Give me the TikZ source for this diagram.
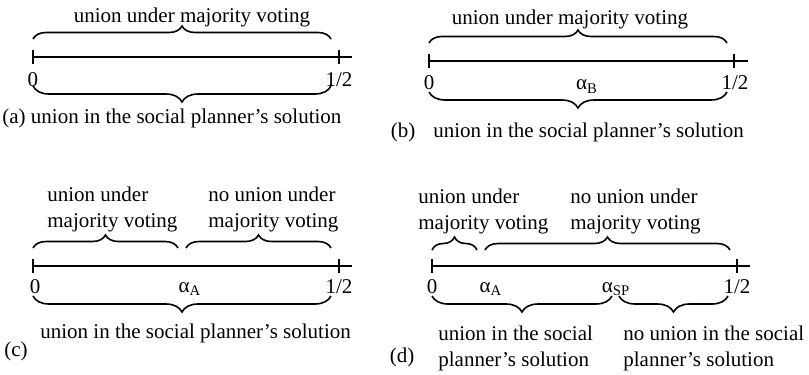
\documentclass[tikz,border=0pt]{standalone}
\usepackage{fontspec}
\setmainfont{Liberation Serif}
\usetikzlibrary{decorations.pathreplacing, positioning}
\tikzset{
    axisline/.style={line width=1pt},
    tickmark/.style={line width=1pt},
    ticklabel/.style={anchor=base, inner sep=0pt},
    upbrace/.style={line width=0.8pt, decorate, decoration={brace, amplitude=6.5pt}},
    downbrace/.style={line width=0.8pt, decorate, decoration={brace, amplitude=8pt, mirror}},
    textblock/.style={anchor=base west, inner sep=0pt, align=left},
    panellabel/.style={anchor=base, inner sep=0pt}
}

\begin{document}
\begin{tikzpicture}[x=0.5pt, y=-0.5pt, font=\fontsize{10.5}{13}\selectfont]
    \useasboundingbox (0,0) rectangle (809,375);

    % Panel (a)
    \coordinate (a0) at (33,57);
    \coordinate (a1) at (339,57);
    \coordinate (aend) at (352,57);
    \draw[axisline] (a0) -- (aend);
    \draw[tickmark] (a0) ++(0,-7) -- ++(0,14);
    \draw[tickmark] (a1) ++(0,-7) -- ++(0,14);
    \node (azero) [ticklabel] at (33,86) {0};
    \node (ahalf) [ticklabel] at (339,86) {1/2};
    \coordinate (atopL) at (33,39);
    \coordinate (atopR) at (331,39);
    \draw[upbrace] (atopL) -- (atopR);
    \node (avote) [anchor=base, inner sep=0pt] at (192,23) {union under majority voting};
    \coordinate (abotL) at (33,86);
    \coordinate (abotR) at (331,86);
    \draw[downbrace] (abotL) -- (abotR);
    \node (aplan) [textblock] at (2,123) {(a) union in the social planner’s solution};

    % Panel (b)
    \coordinate (b0) at (429,61);
    \coordinate (b1) at (734,61);
    \coordinate (bend) at (748,61);
    \draw[axisline] (b0) -- (bend);
    \draw[tickmark] (b0) ++(0,-7) -- ++(0,14);
    \draw[tickmark] (b1) ++(0,-7) -- ++(0,14);
    \node (bzero) [ticklabel] at (429,90) {0};
    \node (balpha) [ticklabel] at (587,90) {α\textsubscript{B}};
    \node (bhalf) [ticklabel] at (735,90) {1/2};
    \coordinate (btopL) at (429,43);
    \coordinate (btopR) at (727,43);
    \draw[upbrace] (btopL) -- (btopR);
    \node (bvote) [anchor=base, inner sep=0pt] at (570,25) {union under majority voting};
    \coordinate (bbotL) at (429,92);
    \coordinate (bbotR) at (727,92);
    \draw[downbrace] (bbotL) -- (bbotR);
    \node (blabel) [panellabel] at (403,137) {(b)};
    \node (bplan) [textblock] at (433,137) {union in the social planner’s solution};

    % Panel (c)
    \coordinate (c0) at (33,266);
    \coordinate (c1) at (339,266);
    \coordinate (cend) at (352,266);
    \draw[axisline] (c0) -- (cend);
    \draw[tickmark] (c0) ++(0,-7) -- ++(0,14);
    \draw[tickmark] (c1) ++(0,-7) -- ++(0,14);
    \node (czero) [ticklabel] at (35,293) {0};
    \node (calpha) [ticklabel] at (190,292) {α\textsubscript{A}};
    \node (chalf) [ticklabel] at (339,293) {1/2};
    \coordinate (ctopL) at (33,248);
    \coordinate (ctopM) at (178,248);
    \coordinate (ctopN) at (186,248);
    \coordinate (ctopR) at (331,248);
    \draw[upbrace] (ctopL) -- (ctopM);
    \draw[upbrace] (ctopN) -- (ctopR);
    \node (cvote) [textblock] at (47,227) {union under\\majority voting};
    \node (cnovote) [textblock] at (208,227) {no union under\\majority voting};
    \coordinate (cbotL) at (33,296);
    \coordinate (cbotR) at (331,296);
    \draw[downbrace] (cbotL) -- (cbotR);
    \node (cplan) [textblock] at (40,338) {union in the social planner’s solution};
    \node (clabel) [panellabel] at (16,356) {(c)};

    % Panel (d)
    \coordinate (d0) at (432,266);
    \coordinate (d1) at (737,266);
    \coordinate (dend) at (750,266);
    \draw[axisline] (d0) -- (dend);
    \draw[tickmark] (d0) ++(0,-7) -- ++(0,14);
    \draw[tickmark] (d1) ++(0,-7) -- ++(0,14);
    \node (dzero) [ticklabel] at (432,293) {0};
    \node (dalphaA) [ticklabel] at (491,292) {α\textsubscript{A}};
    \node (dalphaSP) [ticklabel] at (616,292) {α\textsubscript{SP}};
    \node (dhalf) [ticklabel] at (737,293) {1/2};
    \coordinate (dtopL) at (432,250);
    \coordinate (dtopM) at (477,250);
    \coordinate (dtopN) at (485,250);
    \coordinate (dtopR) at (730,250);
    \draw[upbrace] (dtopL) -- (dtopM);
    \draw[upbrace] (dtopN) -- (dtopR);
    \node (dvote) [textblock] at (418,229) {union under\\majority voting};
    \node (dnovote) [textblock] at (570,229) {no union under\\majority voting};
    \coordinate (dbotL) at (432,296);
    \coordinate (dbotM) at (612,296);
    \coordinate (dbotN) at (619,296);
    \coordinate (dbotR) at (728,296);
    \draw[downbrace] (dbotL) -- (dbotM);
    \draw[downbrace] (dbotN) -- (dbotR);
    \node (dplan) [textblock] at (438,366) {union in the social\\planner’s solution};
    \node (dnoplan) [textblock] at (623,366) {no union in the social\\planner’s solution};
    \node (dlabel) [panellabel] at (402,362) {(d)};
\end{tikzpicture}
\end{document}
